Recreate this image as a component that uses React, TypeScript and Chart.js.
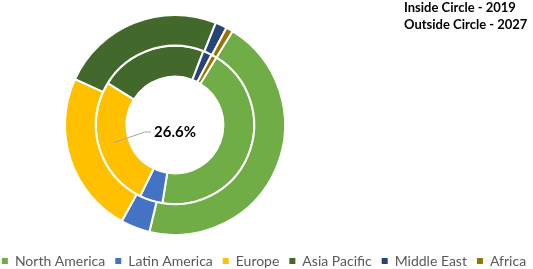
import React, { useEffect, useRef } from "react";
import { Chart, registerables } from "chart.js";

Chart.register(...registerables);

const regions = ["North America", "Latin America", "Europe", "Asia Pacific", "Middle East", "Africa"];
const share2019 = [43.8, 4.7, 26.6, 22.0, 1.8, 1.1];
const share2027 = [45.0, 4.3, 23.8, 24.2, 1.7, 1.0];
const colors = ["#70AD47", "#4472C4", "#FFC000", "#43682B", "#264478", "#997300"];
const titleLines = ["Inside Circle - 2019", "Outside Circle - 2027"];
const labelIndex = 2;

const FONT = "Lato, 'Open Sans', sans-serif";

const overlayPlugin = {
  id: "overlay",
  afterDraw(chart: any) {
    const ctx = chart.ctx;
    const meta = chart.getDatasetMeta(1);
    const arc = meta.data[labelIndex];
    if (arc) {
      const p = arc.getCenterPoint();
      const cx = arc.x;
      const cy = arc.y;
      const ex = cx - 30;
      const ey = cy + 7;
      ctx.save();
      ctx.strokeStyle = "#A6A6A6";
      ctx.lineWidth = 1;
      ctx.beginPath();
      ctx.moveTo(p.x, p.y);
      ctx.lineTo(ex, ey);
      ctx.lineTo(ex + 6, ey);
      ctx.stroke();
      ctx.fillStyle = "#000000";
      ctx.font = `bold 15px ${FONT}`;
      ctx.textAlign = "left";
      ctx.textBaseline = "middle";
      ctx.fillText(`${share2019[labelIndex].toFixed(1)}%`, ex + 9, ey);
      ctx.restore();
    }
    // title
    ctx.save();
    ctx.fillStyle = "#000000";
    ctx.font = `bold 13px ${FONT}`;
    ctx.textAlign = "left";
    ctx.textBaseline = "top";
    titleLines.forEach((t, i) => ctx.fillText(t, 404, 1 + i * 17));
    ctx.restore();
    // legend
    ctx.save();
    ctx.font = `14px ${FONT}`;
    ctx.textBaseline = "middle";
    ctx.textAlign = "left";
    const box = 6;
    const gapText = 7;
    const gapItem = 10;
    const widths = regions.map((r) => ctx.measureText(r).width);
    const total = widths.reduce((a, w) => a + box + gapText + w, 0) + gapItem * (regions.length - 1);
    let x = 264 - total / 2;
    const y = 261;
    regions.forEach((r, i) => {
      ctx.fillStyle = colors[i];
      ctx.fillRect(x, y - box / 2, box, box);
      ctx.fillStyle = "#595959";
      ctx.fillText(r, x + box + gapText, y);
      x += box + gapText + widths[i] + gapItem;
    });
    ctx.restore();
  },
};

export default function App() {
  const ref = useRef<HTMLCanvasElement | null>(null);
  useEffect(() => {
    if (!ref.current) return;
    const chart = new Chart(ref.current, {
      type: "doughnut",
      data: {
        labels: regions,
        datasets: [
          {
            label: "2027",
            data: share2027,
            backgroundColor: colors,
            borderColor: "#FFFFFF",
            borderWidth: 2,
          },
          {
            label: "2019",
            data: share2019,
            backgroundColor: colors,
            borderColor: "#FFFFFF",
            borderWidth: 2,
          },
        ],
      },
      options: {
        animation: false,
        responsive: false,
        rotation: 31.5,
        cutout: "44%",
        layout: { padding: { top: 14, right: 183, left: 0, bottom: 33 } },
        plugins: {
          legend: { display: false },
          tooltip: { enabled: false },
        },
      },
      plugins: [overlayPlugin],
    });
    return () => chart.destroy();
  }, []);
  return (
    <div style={{ position: "fixed", left: 0, top: 0, width: 533, height: 269, background: "#fff" }}>
      <canvas ref={ref} width={533} height={269} style={{ width: 533, height: 269 }} />
    </div>
  );
}
